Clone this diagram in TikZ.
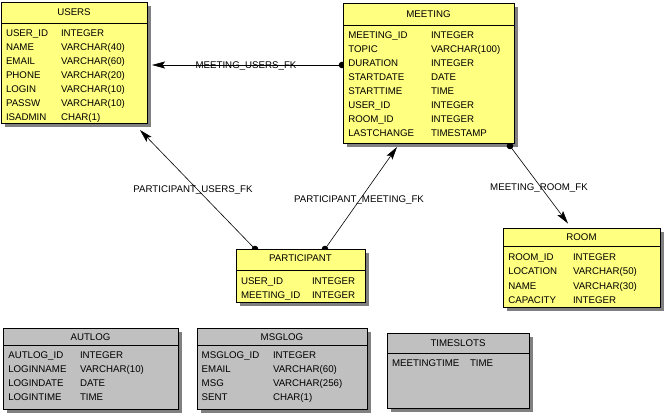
\documentclass[tikz,border=0pt]{standalone}
\usepackage{fontspec}
\setmainfont{Liberation Sans}
\usetikzlibrary{arrows.meta}
\definecolor{tblyellow}{HTML}{FFFF80}
\definecolor{tblgray}{HTML}{C0C0C0}
\definecolor{shadowc}{HTML}{808080}
\pgfdeclarelayer{paperl}
\pgfdeclarelayer{shadowl}
\pgfdeclarelayer{bgl}
\pgfsetlayers{paperl,shadowl,bgl,main}
\tikzset{
  tbl/.style={draw=black, line width=0.9pt, inner sep=0pt, outer sep=0pt},
  tblline/.style={draw=black, line width=0.9pt},
  txt/.style={inner sep=0pt, outer sep=0pt, font=\fontsize{9.7}{11}\selectfont},
  ttl/.style={txt, anchor=base},
  cell/.style={txt, anchor=base west},
  fk/.style={draw=black, line width=0.6pt, -{Stealth[length=13pt,width=7pt,inset=2.5pt]}},
  fkdot/.style={fill=black},
  lbl/.style={txt, anchor=base}
}
% name, x1, y1, x2, y2, sep y, title baseline, fill, title
\newcommand{\ertable}[9]{%
  \begin{pgfonlayer}{shadowl}\fill[shadowc] (#2+4,#3+4) rectangle (#4+4,#5+4);\end{pgfonlayer}
  \node[tbl, fill=#8, anchor=north west, minimum width={#4-#2}, minimum height={#5-#3}] (#1) at (#2,#3) {};
  \draw[tblline] (#2,#6) -- (#4,#6);
  \node[ttl] (#1-t) at ({(#2+#4)/2},#7) {#9};
}
% name, x col1, x col2, baseline, text1, text2
\newcommand{\errow}[6]{%
  \node[cell] (#1a) at (#2,#4) {#5};
  \node[cell] (#1b) at (#3,#4) {#6};
}
\begin{document}
\begin{tikzpicture}[x=1pt,y=-1pt]
\begin{pgfonlayer}{paperl}
\fill[white] (0,0) rectangle (665,416);
\end{pgfonlayer}
\useasboundingbox (0,0) rectangle (665,416);

% USERS
\ertable{users}{1}{2}{147}{123}{23}{15}{tblyellow}{USERS}
\errow{u1}{6}{61}{36.7}{USER\_ID}{INTEGER}
\errow{u2}{6}{61}{50.6}{NAME}{VARCHAR(40)}
\errow{u3}{6}{61}{64.5}{EMAIL}{VARCHAR(60)}
\errow{u4}{6}{61}{78.4}{PHONE}{VARCHAR(20)}
\errow{u5}{6}{61}{92.3}{LOGIN}{VARCHAR(10)}
\errow{u6}{6}{61}{106.2}{PASSW}{VARCHAR(10)}
\errow{u7}{6}{61}{120.1}{ISADMIN}{CHAR(1)}

% MEETING
\ertable{meeting}{343}{3}{514}{143}{25}{17.3}{tblyellow}{MEETING}
\errow{m1}{348.3}{431}{38.3}{MEETING\_ID}{INTEGER}
\errow{m2}{348.3}{431}{52.3}{TOPIC}{VARCHAR(100)}
\errow{m3}{348.3}{431}{66.4}{DURATION}{INTEGER}
\errow{m4}{348.3}{431}{80.4}{STARTDATE}{DATE}
\errow{m5}{348.3}{431}{94.5}{STARTTIME}{TIME}
\errow{m6}{348.3}{431}{108.5}{USER\_ID}{INTEGER}
\errow{m7}{348.3}{431}{122.6}{ROOM\_ID}{INTEGER}
\errow{m8}{348.3}{431}{136.7}{LASTCHANGE}{TIMESTAMP}

% PARTICIPANT
\ertable{participant}{236}{249}{365}{302}{270}{261.7}{tblyellow}{PARTICIPANT}
\errow{p1}{241}{312}{284.3}{USER\_ID}{INTEGER}
\errow{p2}{241}{312}{298.3}{MEETING\_ID}{INTEGER}

% ROOM
\ertable{room}{503}{228}{660}{307}{246}{240.7}{tblyellow}{ROOM}
\errow{r1}{508.3}{573}{260.7}{ROOM\_ID}{INTEGER}
\errow{r2}{508.3}{573}{274.9}{LOCATION}{VARCHAR(50)}
\errow{r3}{508.3}{573}{289.1}{NAME}{VARCHAR(30)}
\errow{r4}{508.3}{573}{303.3}{CAPACITY}{INTEGER}

% AUTLOG
\ertable{autlog}{3}{328}{178}{409}{345}{340}{tblgray}{AUTLOG}
\errow{a1}{8.3}{80}{358.3}{AUTLOG\_ID}{INTEGER}
\errow{a2}{8.3}{80}{372.4}{LOGINNAME}{VARCHAR(10)}
\errow{a3}{8.3}{80}{386.5}{LOGINDATE}{DATE}
\errow{a4}{8.3}{80}{400.7}{LOGINTIME}{TIME}

% MSGLOG
\ertable{msglog}{197}{328}{367}{409}{345}{340}{tblgray}{MSGLOG}
\errow{g1}{201.7}{273}{358.3}{MSGLOG\_ID}{INTEGER}
\errow{g2}{201.7}{273}{372.4}{EMAIL}{VARCHAR(60)}
\errow{g3}{201.7}{273}{386.5}{MSG}{VARCHAR(256)}
\errow{g4}{201.7}{273}{400.7}{SENT}{CHAR(1)}

% TIMESLOTS
\ertable{timeslots}{387}{333}{529}{408}{353}{346}{tblgray}{TIMESLOTS}
\errow{t1}{392}{470}{366.7}{MEETINGTIME}{TIME}

% connector end points
\coordinate (mu-s) at ([xshift=-1pt,yshift=-62pt]meeting.north west);
\coordinate (mu-e) at ([xshift=5pt,yshift=-63pt]users.north east);
\coordinate (pu-s) at ([xshift=19pt]participant.north west);
\coordinate (pu-e) at ([xshift=139pt,yshift=-7pt]users.south west);
\coordinate (pm-s) at ([xshift=89pt]participant.north west);
\coordinate (pm-e) at ([xshift=54pt,yshift=-4pt]meeting.south west);
\coordinate (mr-s) at ([xshift=-4pt,yshift=-3pt]meeting.south east);
\coordinate (mr-e) at ([xshift=65pt,yshift=4.5pt]room.north west);

\begin{pgfonlayer}{bgl}
  \draw[fk] (mu-s) -- (mu-e);
  \fill[fkdot] (mu-s) circle (3.3pt);
  \draw[fk] (pu-s) -- (pu-e);
  \fill[fkdot] (pu-s) circle (3.3pt);
  \draw[fk] (pm-s) -- (pm-e);
  \fill[fkdot] (pm-s) circle (3.3pt);
  \draw[fk] (mr-s) -- (mr-e);
  \fill[fkdot] (mr-s) circle (3.3pt);
\end{pgfonlayer}

\node[lbl] (l-mu) at (246,68) {MEETING\_USERS\_FK};
\node[lbl] (l-pu) at (193,192.7) {PARTICIPANT\_USERS\_FK};
\node[lbl] (l-pm) at (359,202.7) {PARTICIPANT\_MEETING\_FK};
\node[lbl] (l-mr) at (539,190) {MEETING\_ROOM\_FK};
\end{tikzpicture}
\end{document}
